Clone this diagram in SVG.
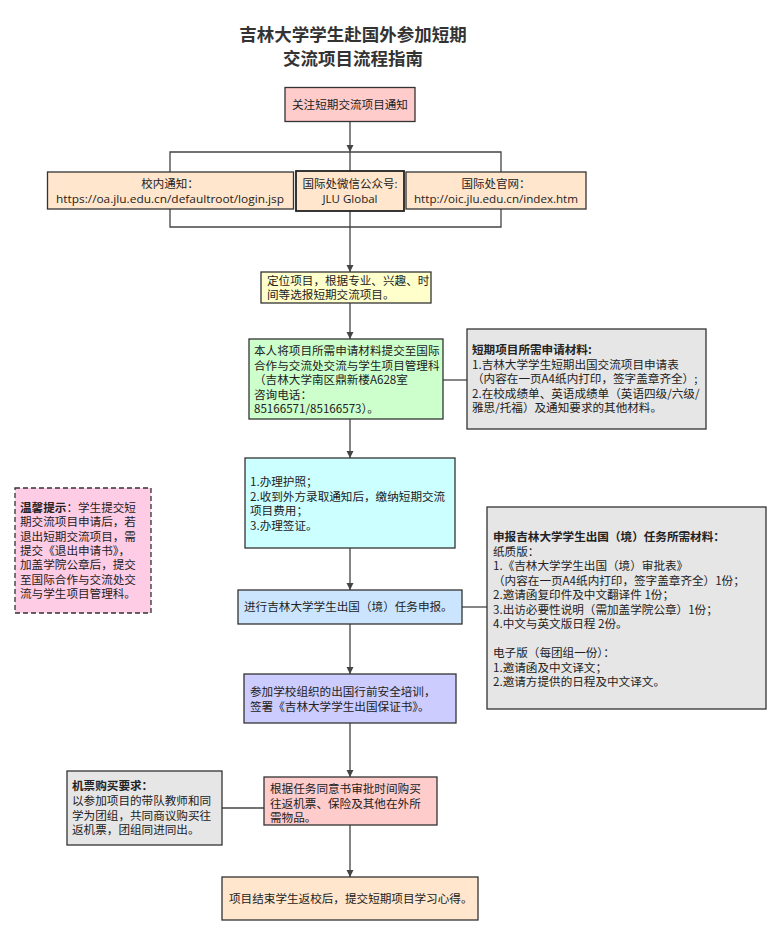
<svg xmlns="http://www.w3.org/2000/svg" width="784" height="947" viewBox="0 0 784 947">
<defs>
<marker id="ah" viewBox="0 0 10 10" refX="10" refY="5" markerWidth="7" markerHeight="8" markerUnits="userSpaceOnUse" orient="auto"><path d="M0,0 L10,5 L0,10 z" fill="#444"/></marker>
<style>
.b{stroke:#333;stroke-width:1.3}
.t{font-family:"Noto Sans CJK SC","Noto Sans",sans-serif;font-size:11.6px;fill:#222}
.r{font-family:"Open Sans","Noto Sans CJK SC",sans-serif;font-size:11.5px;fill:#222}
.c{text-anchor:middle}
.bold{font-weight:bold}
.ln{stroke:#444;stroke-width:1.3;fill:none}
.ar{stroke:#444;stroke-width:1.3;fill:none;marker-end:url(#ah)}
</style>
</defs>
<rect width="784" height="947" fill="#fff"/>
<g id="title">
<text font-family="'Noto Sans CJK SC',sans-serif" font-size="17.5" font-weight="bold" fill="#333" text-anchor="middle" x="353" y="40.5">吉林大学学生赴国外参加短期<tspan x="353" dy="24">交流项目流程指南</tspan></text>
</g>
<g id="connectors">
<path class="ar" d="M350,121 V152"/>
<path class="ln" d="M170,172 V152 H501 V172"/>
<path class="ln" d="M350,152 V171"/>
<path class="ln" d="M170,209 V227 H501 V209"/>
<path class="ar" d="M350,211 V272"/>
<path class="ar" d="M350,303 V339"/>
<path class="ln" d="M443,380 H467"/>
<path class="ar" d="M350,419 V458"/>
<path class="ar" d="M350,548 V590"/>
<path class="ln" d="M462,607 H487"/>
<path class="ar" d="M350,624 V674"/>
<path class="ar" d="M350,723 V777"/>
<path class="ln" d="M222,808 H264"/>
<path class="ar" d="M350,825 V877"/>
</g>
<g id="n-notice">
<rect class="b" x="285" y="87.5" width="130" height="34" fill="#FFCCCC"/>
<text class="t c" x="350" y="108.5">关注短期交流项目通知</text>
</g>
<g id="n-campus">
<rect class="b" x="47.5" y="172" width="246" height="37" fill="#FFE6CC"/>
<text class="r c" x="170" y="188">校内通知：<tspan x="170" dy="15" textLength="228" lengthAdjust="spacingAndGlyphs">https://oa.jlu.edu.cn/defaultroot/login.jsp</tspan></text>
</g>
<g id="n-wechat">
<rect x="296" y="171" width="108" height="40" fill="#FFE6CC" stroke="#222" stroke-width="1.8"/>
<text class="r c" x="350" y="188">国际处微信公众号:<tspan x="350" dy="15">JLU Global</tspan></text>
</g>
<g id="n-web">
<rect class="b" x="406" y="172" width="180" height="37" fill="#FFE6CC"/>
<text class="r c" x="496" y="188">国际处官网：<tspan x="496" dy="15" textLength="164" lengthAdjust="spacingAndGlyphs">http://oic.jlu.edu.cn/index.htm</tspan></text>
</g>
<g id="n-locate">
<rect class="b" x="261" y="272" width="170" height="31" fill="#FFFFCC"/>
<text class="t" x="267" y="284.5">定位项目，根据专业、兴趣、时<tspan x="267" dy="14.5">间等选报短期交流项目。</tspan></text>
</g>
<g id="n-submit">
<rect class="b" x="249" y="339" width="194" height="80" fill="#CCFFCC"/>
<text class="t" x="254" y="355">本人将项目所需申请材料提交至国际<tspan x="254" dy="14.5">合作与交流处交流与学生项目管理科</tspan><tspan x="254" dy="14.5">（吉林大学南区鼎新楼A628室</tspan><tspan x="254" dy="14.5">咨询电话：</tspan><tspan x="254" dy="14.5">85166571/85166573）。</tspan></text>
</g>
<g id="n-materials1">
<rect class="b" x="467" y="329" width="239" height="100" fill="#E6E6E6"/>
<text class="t" x="472" y="354"><tspan class="bold">短期项目所需申请材料:</tspan><tspan x="472" dy="14.5">1.吉林大学学生短期出国交流项目申请表</tspan><tspan x="472" dy="14.5">（内容在一页A4纸内打印，签字盖章齐全）;</tspan><tspan x="472" dy="14.5">2.在校成绩单、英语成绩单（英语四级/六级/</tspan><tspan x="472" dy="14.5">雅思/托福）及通知要求的其他材料。</tspan></text>
</g>
<g id="n-tip">
<rect x="15" y="488" width="136" height="125" fill="#FFCCE6" stroke="#333" stroke-width="1.3" stroke-dasharray="5,3"/>
<text class="t" x="20" y="512"><tspan class="bold">温馨提示</tspan>：学生提交短<tspan x="20" dy="14.3">期交流项目申请后，若</tspan><tspan x="20" dy="14.3">退出短期交流项目，需</tspan><tspan x="20" dy="14.3">提交《退出申请书》，</tspan><tspan x="20" dy="14.3">加盖学院公章后，提交</tspan><tspan x="20" dy="14.3">至国际合作与交流处交</tspan><tspan x="20" dy="14.3">流与学生项目管理科。</tspan></text>
</g>
<g id="n-passport">
<rect class="b" x="245" y="458" width="210" height="90" fill="#CCFFFF"/>
<text class="t" x="250" y="486">1.办理护照；<tspan x="250" dy="14.5">2.收到外方录取通知后，缴纳短期交流</tspan><tspan x="250" dy="14.5">项目费用；</tspan><tspan x="250" dy="14.5">3.办理签证。</tspan></text>
</g>
<g id="n-declare">
<rect class="b" x="238" y="590" width="224" height="34" fill="#CCE5FF"/>
<text class="t" x="244" y="611">进行吉林大学学生出国（境）任务申报。</text>
</g>
<g id="n-materials2">
<rect class="b" x="487" y="507" width="279" height="202" fill="#E6E6E6"/>
<text class="t" x="493" y="541"><tspan class="bold">申报吉林大学学生出国（境）任务所需材料：</tspan><tspan x="493" dy="14.5">纸质版：</tspan><tspan x="493" dy="14.5">1.《吉林大学学生出国（境）审批表》</tspan><tspan x="493" dy="14.5">（内容在一页A4纸内打印，签字盖章齐全）1份；</tspan><tspan x="493" dy="14.5">2.邀请函复印件及中文翻译件 1份；</tspan><tspan x="493" dy="14.5">3.出访必要性说明（需加盖学院公章）1份；</tspan><tspan x="493" dy="14.5">4.中文与英文版日程 2份。</tspan><tspan x="493" dy="29">电子版（每团组一份）：</tspan><tspan x="493" dy="14.5">1.邀请函及中文译文；</tspan><tspan x="493" dy="14.5">2.邀请方提供的日程及中文译文。</tspan></text>
</g>
<g id="n-training">
<rect class="b" x="244" y="674" width="212" height="49" fill="#CCCCFF"/>
<text class="t" x="250" y="696">参加学校组织的出国行前安全培训，<tspan x="250" dy="15">签署《吉林大学学生出国保证书》。</tspan></text>
</g>
<g id="n-ticket-req">
<rect class="b" x="67" y="771" width="155" height="74" fill="#E6E6E6"/>
<text class="t" x="72" y="790"><tspan class="bold">机票购买要求：</tspan><tspan x="72" dy="15">以参加项目的带队教师和同</tspan><tspan x="72" dy="14.5">学为团组，共同商议购买往</tspan><tspan x="72" dy="14.5">返机票，团组同进同出。</tspan></text>
</g>
<g id="n-buy">
<rect class="b" x="264" y="777" width="173" height="48" fill="#FFCCCC"/>
<text class="t" x="270" y="793">根据任务同意书审批时间购买<tspan x="270" dy="14.5">往返机票、保险及其他在外所</tspan><tspan x="270" dy="14.5">需物品。</tspan></text>
</g>
<g id="n-end">
<rect class="b" x="222" y="877" width="256" height="43" fill="#FFE6CC"/>
<text class="t" x="229" y="903">项目结束学生返校后，提交短期项目学习心得。</text>
</g>
</svg>
